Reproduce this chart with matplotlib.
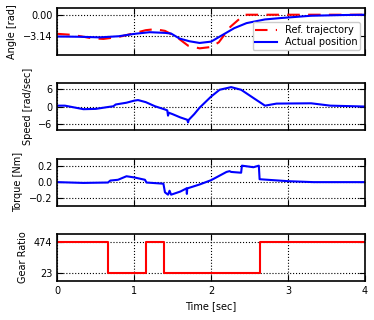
import matplotlib
matplotlib.use('Agg')
import matplotlib.pyplot as plt

# angle panel
ref_t = [0.0, 0.2, 0.45, 0.6, 0.8, 1.0, 1.15, 1.27, 1.4, 1.55, 1.7, 1.85, 2.0, 2.1, 2.25, 2.43, 4.0]
ref_angle = [-2.84, -3.0, -3.5, -3.6, -3.3, -2.75, -2.3, -2.15, -2.4, -3.3, -4.6, -5.0, -4.8, -4.1, -1.8, 0.0, 0.0]
act_t = [0.0, 0.3, 0.55, 0.8, 1.0, 1.2, 1.4, 1.48, 1.59, 1.72, 1.85, 2.0, 2.15, 2.3, 2.46, 2.7, 2.9, 3.3, 3.7, 4.0]
act_angle = [-3.24, -3.28, -3.37, -3.2, -2.85, -2.6, -2.7, -2.8, -3.55, -3.95, -4.2, -4.0, -3.0, -2.0, -1.25, -0.7, -0.5, -0.15, -0.05, 0.0]

# speed panel
speed_t = [0.0, 0.1, 0.2, 0.34, 0.5, 0.65, 0.73, 0.76, 0.9, 1.0, 1.05, 1.15, 1.27, 1.4, 1.43, 1.44, 1.45, 1.5,
           1.6, 1.69, 1.70, 1.71, 1.78, 1.85, 2.0, 2.11, 2.26, 2.39, 2.55, 2.70, 2.85, 3.3, 3.55, 4.0]
speed = [0.4, 0.4, -0.1, -0.8, -0.7, -0.1, 0.2, 0.8, 1.4, 2.1, 2.3, 1.6, 0.2, -0.9, -1.2, -3.0, -2.0, -2.5,
         -3.6, -4.4, -5.3, -4.4, -2.5, -0.3, 3.5, 5.8, 6.7, 5.8, 3.0, 0.4, 1.1, 1.2, 0.4, 0.1]

# torque panel
torque_t = [0.0, 0.34, 0.66, 0.69, 0.79, 0.90, 1.0, 1.14, 1.16, 1.38, 1.40, 1.44, 1.46, 1.48, 1.60, 1.68, 1.685,
            1.69, 1.85, 2.0, 2.2, 2.24, 2.26, 2.39, 2.40, 2.55, 2.62, 2.63, 3.0, 3.33, 4.0]
torque = [0.0, -0.01, -0.005, 0.02, 0.03, 0.075, 0.06, 0.03, -0.005, -0.02, -0.13, -0.16, -0.11, -0.16, -0.12,
          -0.08, -0.15, -0.08, -0.03, 0.025, 0.13, 0.14, 0.13, 0.12, 0.21, 0.19, 0.21, 0.037, 0.012, 0.0, 0.0]

# gear ratio panel
gear_t = [0.0, 0.654, 1.16, 1.39, 2.63, 4.0]
gear = [474, 23, 474, 23, 474, 474]

plt.rcParams['font.size'] = 7
fig, axes = plt.subplots(4, 1, figsize=(3.74, 3.2), dpi=100, sharex=True)
fig.subplots_adjust(left=0.153, right=0.976, top=0.975, bottom=0.122, hspace=0.6)

ax = axes[0]
ax.plot(ref_t, ref_angle, color='r', lw=1.5, dashes=(6, 4), label='Ref. trajectory')
ax.plot(act_t, act_angle, color='b', lw=1.5, label='Actual position')
ax.set_ylim(-6.0, 1.0)
ax.set_yticks([-3.14, 0.0], ['\u22123.14', '0.00'])
ax.set_ylabel('Angle [rad]')
ax.legend(loc='lower right', fontsize=7, handlelength=2.2, borderpad=0.3, labelspacing=0.2, framealpha=1)

ax = axes[1]
ax.plot(speed_t, speed, color='b', lw=1.5)
ax.set_ylim(-8, 8)
ax.set_yticks([-6, 0, 6])
ax.set_ylabel('Speed [rad/sec]')

ax = axes[2]
ax.plot(torque_t, torque, color='b', lw=1.5)
ax.set_ylim(-0.3, 0.3)
ax.set_yticks([-0.2, 0.0, 0.2])
ax.set_ylabel('Torque [Nm]')

ax = axes[3]
ax.plot(gear_t, gear, color='r', lw=1.5, drawstyle='steps-post')
ax.set_ylim(-100, 600)
ax.set_yticks([23, 474])
ax.set_ylabel('Gear Ratio')
ax.set_xlabel('Time [sec]')

for ax in axes:
    ax.set_xlim(0, 4)
    ax.set_xticks([0, 1, 2, 3, 4])
    ax.grid(True, color='k', linestyle=':', lw=0.8)
    ax.tick_params(direction='in', top=True, right=True, length=4)
    for s in ax.spines.values():
        s.set_linewidth(1.2)

fig.savefig('out.png')
